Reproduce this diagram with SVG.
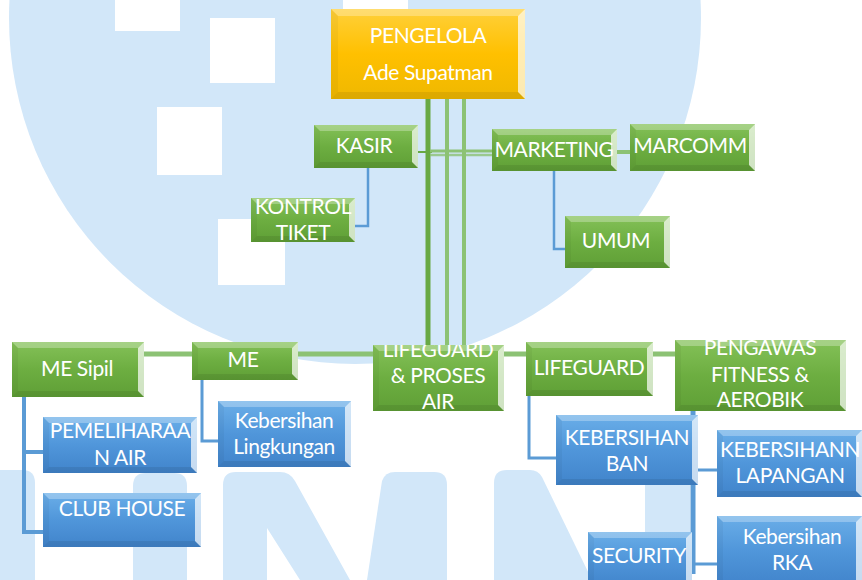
<svg xmlns="http://www.w3.org/2000/svg" width="862" height="580" viewBox="0 0 862 580">
<style>
  .wm{fill:#d2e7f9}
  .hole{fill:#ffffff}
  .green>rect{fill:url(#gGreen)}
  .blue>rect{fill:url(#gBlue)}
  .gold>rect{fill:url(#gGold)}
  .bt{fill:#ffffff;opacity:.28}
  .br{fill:#ffffff;opacity:.7}
  .bb{fill:#000000;opacity:.08}
  .bl{fill:#000000;opacity:.04}
  text{font-family:Lato,'Open Sans','Liberation Sans',sans-serif;font-size:21px;letter-spacing:-0.4px;fill:#ffffff;text-anchor:middle}
  .gl{stroke:#8cc274;fill:none}
  .gd{stroke:#68a944;fill:none}
  .bln{stroke:#5b9bd5;fill:none}
</style>
<defs>
  <linearGradient id="gGreen" x1="0" y1="0" x2="0" y2="1">
    <stop offset="0" stop-color="#84c158"/>
    <stop offset="0.5" stop-color="#6dae41"/>
    <stop offset="1" stop-color="#5f9f36"/>
  </linearGradient>
  <linearGradient id="gBlue" x1="0" y1="0" x2="0" y2="1">
    <stop offset="0" stop-color="#6aaee8"/>
    <stop offset="0.5" stop-color="#5096da"/>
    <stop offset="1" stop-color="#4184cb"/>
  </linearGradient>
  <linearGradient id="gGold" x1="0" y1="0" x2="0" y2="1">
    <stop offset="0" stop-color="#ffd03a"/>
    <stop offset="0.5" stop-color="#ffc000"/>
    <stop offset="1" stop-color="#efb800"/>
  </linearGradient>
  <clipPath id="cKontrol"><rect x="251" y="198" width="104" height="44"/></clipPath>
  <clipPath id="cLg"><rect x="373" y="345" width="131" height="66"/></clipPath>
  <clipPath id="cPeng"><rect x="675" y="340" width="171" height="71"/></clipPath>
</defs>

<rect width="862" height="580" fill="#ffffff"/>

<g id="watermark">
  <circle class="wm" cx="355" cy="18" r="346"/>
  <rect class="hole" x="115" y="0" width="65" height="31"/>
  <rect class="hole" x="210" y="18" width="65" height="65"/>
  <rect class="hole" x="157" y="107" width="65" height="68"/>
  <rect class="hole" x="218" y="219" width="67" height="66"/>
  <rect class="hole" x="343" y="0" width="65" height="25"/>
  <path class="wm" d="M0,580 V470 H22 Q35,470 35,483 V580 Z"/>
  <path class="wm" d="M133,580 V486 Q133,473 146,473 H174 Q187,473 187,486 V580 Z"/>
  <path class="wm" d="M223,580 V485 Q223,472 236,472 H280 Q290,472 295,481 L350,580 H300 L267,528 V580 Z"/>
  <path class="wm" d="M367,580 L382,481 Q385,472 395,472 H434 Q447,472 447,485 V580 Z"/>
  <path class="wm" d="M494,580 V483 Q494,470 507,470 H530 Q538,470 542,477 L592,580 Z"/>
  <path class="wm" d="M645,580 V483 Q645,470 658,470 H677 Q690,470 690,483 V580 Z"/>
</g>

<g id="connectors">
  <line class="gd" x1="428" y1="99" x2="428" y2="346" stroke-width="5"/>
  <line class="gl" x1="447" y1="99" x2="447" y2="346" stroke-width="4"/>
  <line class="gl" x1="464" y1="99" x2="464" y2="346" stroke-width="4"/>
  <line class="gd" x1="418" y1="152" x2="432" y2="152" stroke-width="2"/>
  <line class="gl" x1="430" y1="151" x2="492" y2="151" stroke-width="3"/>
  <line class="gl" x1="430" y1="155" x2="492" y2="155" stroke-width="2.5" opacity="0.8"/>
  <line class="gl" x1="617" y1="152" x2="630" y2="152" stroke-width="4"/>
  <line class="gl" x1="144" y1="354" x2="675" y2="354" stroke-width="5"/>
  <path class="bln" d="M368,168 V226 H355" stroke-width="2.5"/>
  <path class="bln" d="M554,171 V249 H565" stroke-width="2.5"/>
  <path class="bln" d="M24,397 V532 H43 M24,452 H43" stroke-width="4" stroke="#6ea8de"/>
  <path class="bln" d="M202,380 V441 H218" stroke-width="3"/>
  <path class="bln" d="M529,396 V458 H556" stroke-width="3"/>
  <path class="bln" d="M693,411 V574" stroke-width="5"/>
  <path class="bln" d="M693,470 H717 M693,564 H717" stroke-width="3"/>
</g>

<g id="pengelola" class="gold">
  <rect x="331" y="9" width="194" height="90"/>
  <polygon class="bt" points="331,9 525,9 518,16 338,16"/>
  <polygon class="br" points="525,9 525,99 518,92 518,16"/>
  <polygon class="bb" points="331,99 525,99 518,92 338,92"/>
  <polygon class="bl" points="331,9 338,16 338,92 331,99"/>
  <text x="428" y="43">PENGELOLA</text>
  <text x="428" y="80">Ade Supatman</text>
</g>

<g id="kasir" class="green">
  <rect x="314" y="125" width="104" height="43"/>
  <polygon class="bt" points="314,125 418,125 412,131 320,131"/>
  <polygon class="br" points="418,125 418,168 412,162 412,131"/>
  <polygon class="bb" points="314,168 418,168 412,162 320,162"/>
  <polygon class="bl" points="314,125 320,131 320,162 314,168"/>
  <text x="364" y="153">KASIR</text>
</g>

<g id="kontrol-tiket" class="green">
  <rect x="251" y="198" width="104" height="44"/>
  <polygon class="bt" points="251,198 355,198 349,204 257,204"/>
  <polygon class="br" points="355,198 355,242 349,236 349,204"/>
  <polygon class="bb" points="251,242 355,242 349,236 257,236"/>
  <polygon class="bl" points="251,198 257,204 257,236 251,242"/>
  <g clip-path="url(#cKontrol)">
    <text x="303" y="214">KONTROL</text>
    <text x="303" y="240">TIKET</text>
  </g>
</g>

<g id="marketing" class="green">
  <rect x="492" y="129" width="125" height="42"/>
  <polygon class="bt" points="492,129 617,129 611,135 498,135"/>
  <polygon class="br" points="617,129 617,171 611,165 611,135"/>
  <polygon class="bb" points="492,171 617,171 611,165 498,165"/>
  <polygon class="bl" points="492,129 498,135 498,165 492,171"/>
  <text x="554" y="157">MARKETING</text>
</g>

<g id="marcomm" class="green">
  <rect x="630" y="124" width="125" height="47"/>
  <polygon class="bt" points="630,124 755,124 749,130 636,130"/>
  <polygon class="br" points="755,124 755,171 749,165 749,130"/>
  <polygon class="bb" points="630,171 755,171 749,165 636,165"/>
  <polygon class="bl" points="630,124 636,130 636,165 630,171"/>
  <text x="690" y="153">MARCOMM</text>
</g>

<g id="umum" class="green">
  <rect x="565" y="216" width="105" height="52"/>
  <polygon class="bt" points="565,216 670,216 664,222 571,222"/>
  <polygon class="br" points="670,216 670,268 664,262 664,222"/>
  <polygon class="bb" points="565,268 670,268 664,262 571,262"/>
  <polygon class="bl" points="565,216 571,222 571,262 565,268"/>
  <text x="616" y="248">UMUM</text>
</g>

<g id="me-sipil" class="green">
  <rect x="12" y="342" width="132" height="55"/>
  <polygon class="bt" points="12,342 144,342 138,348 18,348"/>
  <polygon class="br" points="144,342 144,397 138,391 138,348"/>
  <polygon class="bb" points="12,397 144,397 138,391 18,391"/>
  <polygon class="bl" points="12,342 18,348 18,391 12,397"/>
  <text x="77" y="376">ME Sipil</text>
</g>

<g id="me" class="green">
  <rect x="192" y="342" width="106" height="38"/>
  <polygon class="bt" points="192,342 298,342 292,348 198,348"/>
  <polygon class="br" points="298,342 298,380 292,374 292,348"/>
  <polygon class="bb" points="192,380 298,380 292,374 198,374"/>
  <polygon class="bl" points="192,342 198,348 198,374 192,380"/>
  <text x="243" y="367">ME</text>
</g>

<g id="lifeguard-proses-air" class="green">
  <rect x="373" y="345" width="131" height="66"/>
  <polygon class="bt" points="373,345 504,345 498,351 379,351"/>
  <polygon class="br" points="504,345 504,411 498,405 498,351"/>
  <polygon class="bb" points="373,411 504,411 498,405 379,405"/>
  <polygon class="bl" points="373,345 379,351 379,405 373,411"/>
  <g clip-path="url(#cLg)">
    <text x="438" y="357">LIFEGUARD</text>
    <text x="438" y="383">&amp; PROSES</text>
    <text x="438" y="409">AIR</text>
  </g>
</g>

<g id="lifeguard" class="green">
  <rect x="526" y="342" width="127" height="54"/>
  <polygon class="bt" points="526,342 653,342 647,348 532,348"/>
  <polygon class="br" points="653,342 653,396 647,390 647,348"/>
  <polygon class="bb" points="526,396 653,396 647,390 532,390"/>
  <polygon class="bl" points="526,342 532,348 532,390 526,396"/>
  <text x="589" y="375">LIFEGUARD</text>
</g>

<g id="pengawas" class="green">
  <rect x="675" y="340" width="171" height="71"/>
  <polygon class="bt" points="675,340 846,340 840,346 681,346"/>
  <polygon class="br" points="846,340 846,411 840,405 840,346"/>
  <polygon class="bb" points="675,411 846,411 840,405 681,405"/>
  <polygon class="bl" points="675,340 681,346 681,405 675,411"/>
  <g clip-path="url(#cPeng)">
    <text x="760" y="355">PENGAWAS</text>
    <text x="760" y="382">FITNESS &amp;</text>
    <text x="760" y="407">AEROBIK</text>
  </g>
</g>

<g id="kebersihan-ban" class="blue">
  <rect x="556" y="415" width="142" height="70"/>
  <polygon class="bt" points="556,415 698,415 692,421 562,421"/>
  <polygon class="br" points="698,415 698,485 692,479 692,421"/>
  <polygon class="bb" points="556,485 698,485 692,479 562,479"/>
  <polygon class="bl" points="556,415 562,421 562,479 556,485"/>
  <text x="627" y="445">KEBERSIHAN</text>
  <text x="627" y="471">BAN</text>
</g>

<g id="kebersihan-lapangan" class="blue">
  <rect x="717" y="430" width="145" height="67"/>
  <polygon class="bt" points="717,430 862,430 856,436 723,436"/>
  <polygon class="br" points="862,430 862,497 856,491 856,436"/>
  <polygon class="bb" points="717,497 862,497 856,491 723,491"/>
  <polygon class="bl" points="717,430 723,436 723,491 717,497"/>
  <text x="790" y="457">KEBERSIHANN</text>
  <text x="790" y="483">LAPANGAN</text>
</g>

<g id="security" class="blue">
  <rect x="588" y="532" width="104" height="55"/>
  <polygon class="bt" points="588,532 692,532 686,538 594,538"/>
  <polygon class="br" points="692,532 692,587 686,581 686,538"/>
  <polygon class="bl" points="588,532 594,538 594,581 588,587"/>
  <text x="639" y="563">SECURITY</text>
</g>

<g id="kebersihan-rka" class="blue">
  <rect x="717" y="516" width="145" height="70"/>
  <polygon class="bt" points="717,516 862,516 856,522 723,522"/>
  <polygon class="br" points="862,516 862,586 856,580 856,522"/>
  <polygon class="bl" points="717,516 723,522 723,580 717,586"/>
  <text x="792" y="544">Kebersihan</text>
  <text x="792" y="570">RKA</text>
</g>

<g id="pemeliharaan-air" class="blue">
  <rect x="43" y="417" width="154" height="56"/>
  <polygon class="bt" points="43,417 197,417 191,423 49,423"/>
  <polygon class="br" points="197,417 197,473 191,467 191,423"/>
  <polygon class="bb" points="43,473 197,473 191,467 49,467"/>
  <polygon class="bl" points="43,417 49,423 49,467 43,473"/>
  <text x="120" y="438">PEMELIHARAA</text>
  <text x="120" y="465">N AIR</text>
</g>

<g id="club-house" class="blue">
  <rect x="43" y="493" width="158" height="54"/>
  <polygon class="bt" points="43,493 201,493 195,499 49,499"/>
  <polygon class="br" points="201,493 201,547 195,541 195,499"/>
  <polygon class="bb" points="43,547 201,547 195,541 49,541"/>
  <polygon class="bl" points="43,493 49,499 49,541 43,547"/>
  <text x="122" y="516">CLUB HOUSE</text>
</g>

<g id="kebersihan-lingkungan" class="blue">
  <rect x="218" y="401" width="133" height="66"/>
  <polygon class="bt" points="218,401 351,401 345,407 224,407"/>
  <polygon class="br" points="351,401 351,467 345,461 345,407"/>
  <polygon class="bb" points="218,467 351,467 345,461 224,461"/>
  <polygon class="bl" points="218,401 224,407 224,461 218,467"/>
  <text x="284" y="428">Kebersihan</text>
  <text x="284" y="454">Lingkungan</text>
</g>
</svg>
